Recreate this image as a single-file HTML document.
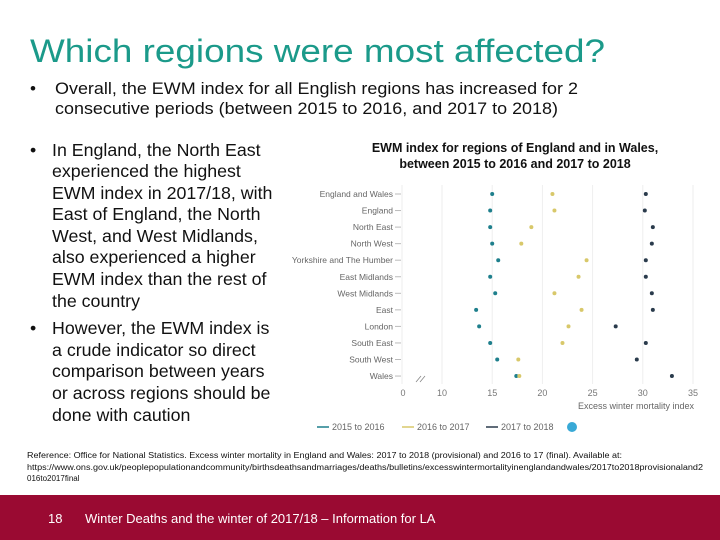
<!DOCTYPE html>
<html><head><meta charset="utf-8"><style>
html,body{margin:0;padding:0;background:#fff;}
svg{display:block;font-family:"Liberation Sans",sans-serif;}
</style></head><body>
<svg width="720" height="540" viewBox="0 0 720 540">
<text x="30" y="62" font-size="32" fill="#1b9a8a" textLength="575" lengthAdjust="spacingAndGlyphs">Which regions were most affected?</text>
<g font-size="17" fill="#111">
<text x="30" y="94">•</text>
<text x="55" y="94" textLength="523" lengthAdjust="spacingAndGlyphs">Overall, the EWM index for all English regions has increased for 2</text>
<text x="55" y="114" textLength="503" lengthAdjust="spacingAndGlyphs">consecutive periods (between 2015 to 2016, and 2017 to 2018)</text>
</g>
<g font-size="17.8" fill="#111">
<text x="30" y="156">•</text>
<text x="52" y="156">In England, the North East</text>
<text x="52" y="177">experienced the highest</text>
<text x="52" y="199">EWM index in 2017/18, with</text>
<text x="52" y="220">East of England, the North</text>
<text x="52" y="242">West, and West Midlands,</text>
<text x="52" y="263">also experienced a higher</text>
<text x="52" y="285">EWM index than the rest of</text>
<text x="52" y="307">the country</text>
<text x="30" y="334">•</text>
<text x="52" y="334">However, the EWM index is</text>
<text x="52" y="356">a crude indicator so direct</text>
<text x="52" y="377">comparison between years</text>
<text x="52" y="399">or across regions should be</text>
<text x="52" y="421">done with caution</text>
</g>
<g font-size="12.5" font-weight="bold" fill="#111" text-anchor="middle">
<text x="515" y="152">EWM index for regions of England and in Wales,</text>
<text x="515" y="168">between 2015 to 2016 and 2017 to 2018</text>
</g>
<g id="chart"></g>
<g font-size="8" fill="#111">
<text x="27" y="458" textLength="595" lengthAdjust="spacingAndGlyphs">Reference: Office for National Statistics. Excess winter mortality in England and Wales: 2017 to 2018 (provisional) and 2016 to 17 (final). Available at:</text>
<text x="27" y="470" textLength="676" lengthAdjust="spacingAndGlyphs">https://www.ons.gov.uk/peoplepopulationandcommunity/birthsdeathsandmarriages/deaths/bulletins/excesswintermortalityinenglandandwales/2017to2018provisionaland2</text>
<text x="27" y="481">016to2017final</text>
</g>
<rect x="0" y="495" width="720" height="45" fill="#9a0a32"/>
<text x="48" y="523" font-size="13" fill="#fff">18</text>
<text x="85" y="523" font-size="13" fill="#fff">Winter Deaths and the winter of 2017/18 – Information for LA</text>
</svg>
<script>
const regions=["England and Wales","England","North East","North West","Yorkshire and The Humber","East Midlands","West Midlands","East","London","South East","South West","Wales"];
const s2016=[15.0,14.8,14.8,15.0,15.6,14.8,15.3,13.4,13.7,14.8,15.5,17.4];
const s2017=[21.0,21.2,18.9,17.9,24.4,23.6,21.2,23.9,22.6,22.0,17.6,17.7];
const s2018=[30.3,30.2,31.0,30.9,30.3,30.3,30.9,31.0,27.3,30.3,29.4,32.9];
const xTicks=[10,15,20,25,30,35];
const seriesNames=["2015 to 2016","2016 to 2017","2017 to 2018"];
const NS="http://www.w3.org/2000/svg";
const g=document.getElementById('chart');
const X=v=>442+(v-10)*10.04;
const Y=i=>194+i*16.55;
function mk(t,a,p){const e=document.createElementNS(NS,t);for(const k in a)e.setAttribute(k,a[k]);(p||g).appendChild(e);return e;}
xTicks.forEach(t=>{
const l=mk('line',{x1:X(t),x2:X(t),y1:185,y2:384,stroke:'#eeeeee','stroke-width':1});


const tx=mk('text',{x:X(t),y:396,'font-size':9,fill:'#777','text-anchor':'middle'});
tx.textContent=t;


});
const z=mk('text',{x:403,y:396,'font-size':9,fill:'#777','text-anchor':'middle'});z.textContent='0';


const brk=mk('path',{d:'M416 382 L421 376 M420 382 L425 376',stroke:'#888','stroke-width':0.8,fill:'none'});


const ax=mk('line',{x1:402,x2:402,y1:185,y2:384,stroke:'#eee'});


regions.forEach((r,i)=>{
const t=mk('text',{x:393,y:Y(i)+3,'font-size':8.5,fill:'#666','text-anchor':'end'});
t.textContent=r;


const tk=mk('line',{x1:395,x2:401,y1:Y(i),y2:Y(i),stroke:'#bbb'});


});
const cols=["#1e7f8c","#d8c86a","#2a3b4c"];
[s2016,s2017,s2018].forEach((arr,si)=>{
arr.forEach((v,i)=>{
const c=mk('circle',{cx:X(v),cy:Y(i),r:2,fill:cols[si]});


});
});
const xt=mk('text',{x:694,y:409,'font-size':9,fill:'#666','text-anchor':'end'});
xt.textContent='Excess winter mortality index';


const lx=[317,402,486];
seriesNames.forEach((n,i)=>{
const ln=mk('line',{x1:lx[i],x2:lx[i]+12,y1:427,y2:427,stroke:cols[i],'stroke-width':1.5});


const tt=mk('text',{x:lx[i]+15,y:430,'font-size':9,fill:'#666'});
tt.textContent=n;


});
const dot=mk('circle',{cx:572,cy:427,r:5,fill:'#39a9d6'});


</script>
</body></html>
